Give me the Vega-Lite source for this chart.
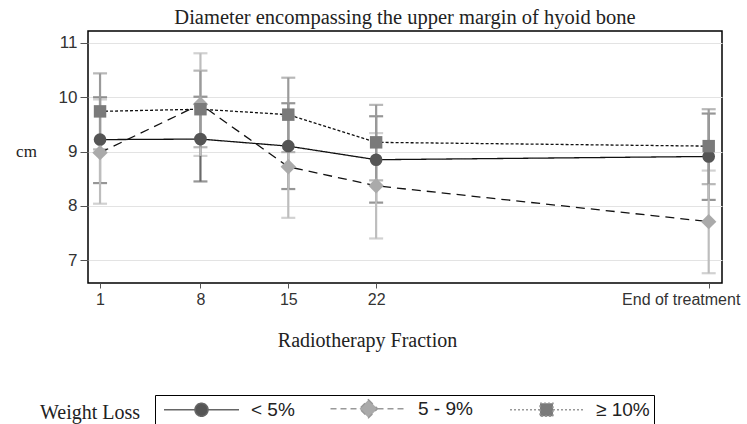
{
  "$schema": "https://vega.github.io/schema/vega-lite/v6.json",
  "width": 634,
  "height": 252,
  "autosize": {"type": "none"},
  "padding": {"left": 88, "top": 31, "right": 25, "bottom": 141},
  "background": "white",
  "title": {"text": "Diameter encompassing the upper margin of hyoid bone", "font": "Liberation Serif", "fontSize": 20.5, "fontWeight": "normal", "color": "#222", "offset": 3, "anchor": "middle"},
  "config": {
    "view": {"stroke": "black", "strokeWidth": 1.5},
    "axis": {"labelFont": "Liberation Sans", "labelColor": "#333", "tickColor": "#555", "domain": false, "titleFont": "Liberation Serif", "titleFontWeight": "normal", "titleColor": "#222"}
  },
  "data": {"values": [
    {"frac": "1", "t": 0, "group": "< 5%", "mean": 9.22, "lo": 8.42, "hi": 10.0},
    {"frac": "8", "t": 8, "group": "< 5%", "mean": 9.23, "lo": 8.45, "hi": 10.01},
    {"frac": "15", "t": 15, "group": "< 5%", "mean": 9.10, "lo": 8.31, "hi": 9.89},
    {"frac": "22", "t": 22, "group": "< 5%", "mean": 8.85, "lo": 8.06, "hi": 9.65},
    {"frac": "End of treatment", "t": 48.5, "group": "< 5%", "mean": 8.91, "lo": 8.11, "hi": 9.70},
    {"frac": "1", "t": 0, "group": "5 - 9%", "mean": 8.98, "lo": 8.04, "hi": 9.96},
    {"frac": "8", "t": 8, "group": "5 - 9%", "mean": 9.87, "lo": 8.92, "hi": 10.81},
    {"frac": "15", "t": 15, "group": "5 - 9%", "mean": 8.72, "lo": 7.78, "hi": 9.66},
    {"frac": "22", "t": 22, "group": "5 - 9%", "mean": 8.37, "lo": 7.40, "hi": 9.34},
    {"frac": "End of treatment", "t": 48.5, "group": "5 - 9%", "mean": 7.71, "lo": 6.76, "hi": 8.65},
    {"frac": "1", "t": 0, "group": "≥ 10%", "mean": 9.74, "lo": 9.04, "hi": 10.44},
    {"frac": "8", "t": 8, "group": "≥ 10%", "mean": 9.78, "lo": 9.08, "hi": 10.49},
    {"frac": "15", "t": 15, "group": "≥ 10%", "mean": 9.68, "lo": 8.99, "hi": 10.36},
    {"frac": "22", "t": 22, "group": "≥ 10%", "mean": 9.17, "lo": 8.47, "hi": 9.86},
    {"frac": "End of treatment", "t": 48.5, "group": "≥ 10%", "mean": 9.10, "lo": 8.40, "hi": 9.78}
  ]},
  "encoding": {
    "x": {"field": "t", "type": "quantitative",
      "scale": {"domain": [-0.96, 49.56], "nice": false, "zero": false},
      "axis": {"values": [0, 8, 15, 22, 48.5], "labelExpr": "datum.value == 0 ? '1' : datum.value > 40 ? 'End of treatment' : datum.label", "labelOffset": {"expr": "datum.value > 40 ? -28 : 0"}, "grid": false, "tickSize": 5, "labelPadding": 3, "labelFontSize": 16,
        "title": "Radiotherapy Fraction", "titleFontSize": 20, "titleX": 279, "titleY": 57, "titleAlign": "center", "titleBaseline": "middle"}
    }
  },
  "layer": [
    {
      "mark": {"type": "errorbar", "ticks": true, "size": 14, "thickness": 2.2},
      "encoding": {
        "y": {"field": "lo", "type": "quantitative", "scale": {"domain": [6.58, 11.22], "nice": false, "zero": false},
          "axis": {"values": [7, 8, 9, 10, 11], "grid": true, "gridColor": "#e3e3e3", "tickSize": 8, "labelPadding": 3, "labelFontSize": 17,
            "title": "cm", "titleAngle": 0, "titleX": -62, "titleY": 120, "titleAlign": "center", "titleBaseline": "middle", "titleFontSize": 17}},
        "y2": {"field": "hi"},
        "color": {"field": "group", "type": "nominal", "scale": {"domain": ["5 - 9%", "≥ 10%", "< 5%"], "range": ["#bdbdbd", "#9a9a9a", "#6a6a6a"]}, "legend": null}
      }
    },
    {
      "mark": {"type": "line", "color": "#111", "strokeWidth": 1.3},
      "encoding": {
        "y": {"field": "mean", "type": "quantitative", "scale": {"domain": [6.58, 11.22], "nice": false, "zero": false},
          "axis": {"values": [7, 8, 9, 10, 11], "grid": true, "gridColor": "#e3e3e3", "tickSize": 8, "labelPadding": 3, "labelFontSize": 17,
            "title": "cm", "titleAngle": 0, "titleX": -62, "titleY": 120, "titleAlign": "center", "titleBaseline": "middle", "titleFontSize": 17}},
        "strokeDash": {"field": "group", "type": "nominal", "scale": {"domain": ["≥ 10%", "5 - 9%", "< 5%"], "range": [[3, 2], [9, 6], [1, 0]]}, "legend": null}
      }
    },
    {
      "mark": {"type": "point", "filled": true, "opacity": 1},
      "encoding": {
        "y": {"field": "mean", "type": "quantitative", "scale": {"domain": [6.58, 11.22], "nice": false, "zero": false},
          "axis": {"values": [7, 8, 9, 10, 11], "grid": true, "gridColor": "#e3e3e3", "tickSize": 8, "labelPadding": 3, "labelFontSize": 17,
            "title": "cm", "titleAngle": 0, "titleX": -62, "titleY": 120, "titleAlign": "center", "titleBaseline": "middle", "titleFontSize": 17}},
        "shape": {"field": "group", "type": "nominal", "scale": {"domain": ["5 - 9%", "< 5%", "≥ 10%"], "range": ["M0,-1.2L1.2,0L0,1.2L-1.2,0Z", "circle", "square"]}, "legend": null},
        "size": {"field": "group", "type": "ordinal", "scale": {"domain": ["≥ 10%", "< 5%", "5 - 9%"], "range": [155, 165, 160]},
          "legend": {
            "orient": "none", "legendX": -48, "legendY": 365, "direction": "horizontal", "padding": 0,
            "title": "Weight Loss", "titleOrient": "left", "titleAlign": "left", "titleBaseline": "top", "titleFont": "Liberation Serif", "titleFontSize": 20, "titleFontWeight": "normal", "titleColor": "#222", "titlePadding": 0,
            "labelExpr": "''", "symbolOpacity": 0, "values": ["< 5%"]
          }
        },
        "fill": {"field": "group", "type": "nominal", "scale": {"domain": ["< 5%", "5 - 9%", "≥ 10%"], "range": ["#555555", "#aaaaaa", "#7a7a7a"]},
          "legend": {
            "orient": "none", "legendX": 67, "legendY": 364, "direction": "horizontal", "title": null,
            "labelFont": "Liberation Sans", "labelFontSize": 19, "labelColor": "#222",
            "strokeColor": "black", "padding": 4, "symbolSize": 100, "symbolOffset": 33, "labelOffset": 40, "columnPadding": 31,
            "symbolType": {"expr": "datum.value === '< 5%' ? 'M-7.5,0L-1.3,0M1.3,0L7.5,0M-1.3,0A1.3,1.3,0,1,0,1.3,0A1.3,1.3,0,1,0,-1.3,0Z' : datum.value === '5 - 9%' ? 'M-7.6,0L-1.8,0M1.8,0L7.6,0M0,-1.8L1.8,0L0,1.8L-1.8,0Z' : 'M-7.3,0L-1.3,0M1.3,0L7.3,0M-1.3,-1.3L1.3,-1.3L1.3,1.3L-1.3,1.3Z'"},
            "symbolStrokeColor": {"expr": "datum.value === '< 5%' ? '#666666' : '#999999'"},
            "symbolDash": {"expr": "datum.value === '< 5%' ? [1, 0] : datum.value === '5 - 9%' ? [6, 4] : [2, 2]"},
            "symbolStrokeWidth": 1.5,
            "symbolOpacity": 1
          }
        }
      }
    }
  ]
}
